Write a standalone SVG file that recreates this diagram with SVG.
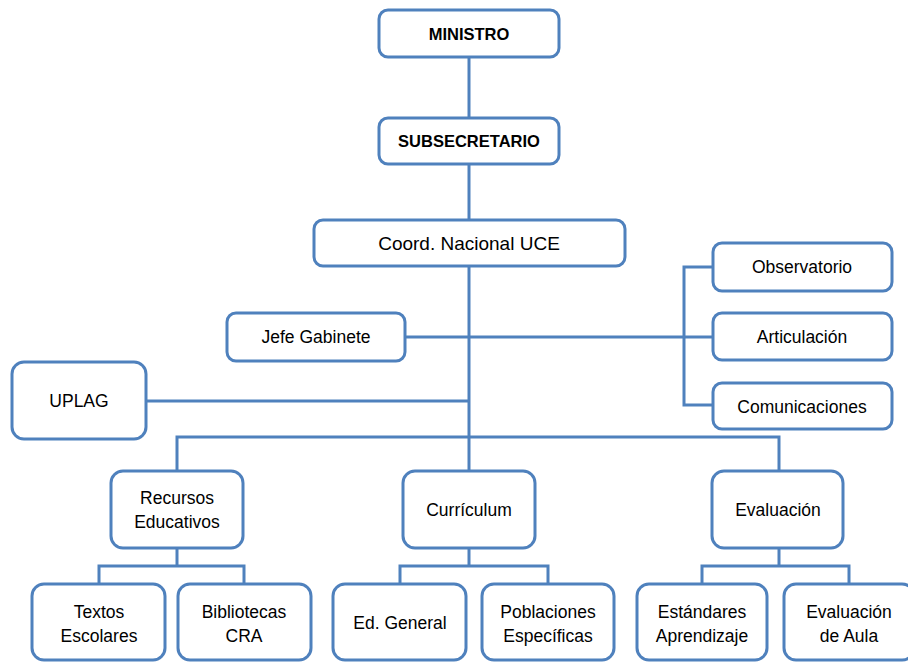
<svg xmlns="http://www.w3.org/2000/svg" width="908" height="663" viewBox="0 0 908 663">
  <style>
    .box { fill: #ffffff; stroke: #4F81BD; stroke-width: 3; }
    .link { fill: none; stroke: #4F81BD; stroke-width: 3; }
    text { font-family: "Liberation Sans", Arial, sans-serif; font-size: 17.5px; fill: #000000; text-anchor: middle; }
    .bold { font-weight: bold; font-size: 16.5px; }
  </style>
  <rect width="908" height="663" fill="#ffffff"/>

  <!-- connectors -->
  <g id="connectors" class="link">
    <path d="M469 57V118"/>
    <path d="M469 164V220"/>
    <path d="M469 266V437"/>
    <path d="M405 337H684"/>
    <path d="M713 267H684V405H713"/>
    <path d="M684 337H713"/>
    <path d="M146 401H469"/>
    <path d="M177 471V437H779V471"/>
    <path d="M469 437V471"/>
    <path d="M177 548V566"/>
    <path d="M99 584V566H244V584"/>
    <path d="M469 548V566"/>
    <path d="M400 584V566H548V584"/>
    <path d="M779 548V566"/>
    <path d="M702 584V566H849V584"/>
  </g>

  <g id="ministro">
    <rect class="box" x="379" y="10" width="180" height="47" rx="9"/>
    <text class="bold" x="469" y="40">MINISTRO</text>
  </g>
  <g id="subsecretario">
    <rect class="box" x="379" y="118" width="180" height="46" rx="9"/>
    <text class="bold" x="469" y="147">SUBSECRETARIO</text>
  </g>
  <g id="coord-nacional">
    <rect class="box" x="314" y="220" width="311" height="46" rx="9"/>
    <text x="469" y="250" style="font-size:19px">Coord. Nacional UCE</text>
  </g>
  <g id="jefe-gabinete">
    <rect class="box" x="227" y="313" width="178" height="48" rx="9"/>
    <text x="316" y="343">Jefe Gabinete</text>
  </g>
  <g id="uplag">
    <rect class="box" x="12" y="362" width="134" height="77" rx="12"/>
    <text x="79" y="407">UPLAG</text>
  </g>
  <g id="observatorio">
    <rect class="box" x="713" y="243" width="179" height="48" rx="9"/>
    <text x="802" y="273">Observatorio</text>
  </g>
  <g id="articulacion">
    <rect class="box" x="713" y="313" width="179" height="47" rx="9"/>
    <text x="802" y="343">Articulación</text>
  </g>
  <g id="comunicaciones">
    <rect class="box" x="713" y="383" width="179" height="46" rx="9"/>
    <text x="802" y="413">Comunicaciones</text>
  </g>

  <g id="recursos-educativos">
    <rect class="box" x="111" y="471" width="132" height="77" rx="12"/>
    <text x="177" y="504">Recursos</text>
    <text x="177" y="528">Educativos</text>
  </g>
  <g id="curriculum">
    <rect class="box" x="403" y="471" width="132" height="77" rx="12"/>
    <text x="469" y="516">Currículum</text>
  </g>
  <g id="evaluacion">
    <rect class="box" x="712" y="471" width="131" height="77" rx="12"/>
    <text x="778" y="516">Evaluación</text>
  </g>

  <g id="textos-escolares">
    <rect class="box" x="32" y="584" width="133" height="76" rx="12"/>
    <text x="99" y="618">Textos</text>
    <text x="99" y="642">Escolares</text>
  </g>
  <g id="bibliotecas-cra">
    <rect class="box" x="178" y="584" width="133" height="76" rx="12"/>
    <text x="244" y="618">Bibliotecas</text>
    <text x="244" y="642">CRA</text>
  </g>
  <g id="ed-general">
    <rect class="box" x="333" y="584" width="133" height="76" rx="12"/>
    <text x="400" y="629">Ed. General</text>
  </g>
  <g id="poblaciones-especificas">
    <rect class="box" x="482" y="584" width="132" height="76" rx="12"/>
    <text x="548" y="618">Poblaciones</text>
    <text x="548" y="642">Específicas</text>
  </g>
  <g id="estandares-aprendizaje">
    <rect class="box" x="637" y="584" width="130" height="76" rx="12"/>
    <text x="702" y="618">Estándares</text>
    <text x="702" y="642">Aprendizaje</text>
  </g>
  <g id="evaluacion-de-aula">
    <rect class="box" x="784" y="584" width="130" height="76" rx="12"/>
    <text x="849" y="618">Evaluación</text>
    <text x="849" y="642">de Aula</text>
  </g>
</svg>
